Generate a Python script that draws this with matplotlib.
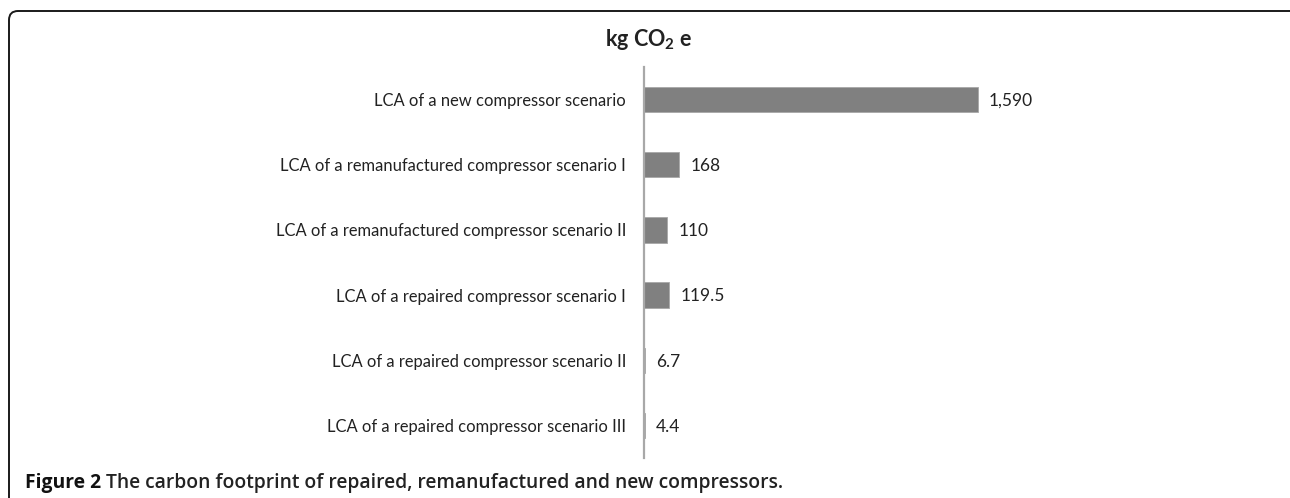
import matplotlib
matplotlib.use("Agg")
import matplotlib.pyplot as plt
from matplotlib.patches import FancyBboxPatch

categories = [
    "LCA of a new compressor scenario",
    "LCA of a remanufactured compressor scenario I",
    "LCA of a remanufactured compressor scenario II",
    "LCA of a repaired compressor scenario I",
    "LCA of a repaired compressor scenario II",
    "LCA of a repaired compressor scenario III",
]
values = [1590, 168, 110, 119.5, 6.7, 4.4]
value_labels = ["1,590", "168", "110", "119.5", "6.7", "4.4"]

plt.rcParams['font.family'] = ['Lato', 'DejaVu Sans']
plt.rcParams['mathtext.fontset'] = 'custom'
plt.rcParams['mathtext.bf'] = 'Lato:bold'
plt.rcParams['mathtext.rm'] = 'Lato'

W, H = 1290, 498
DPI = 100
fig = plt.figure(figsize=(W/DPI, H/DPI), dpi=DPI)

# frame (in inches, origin bottom-left)
x0, y_top = 9/DPI, (H - 11)/DPI
frame = FancyBboxPatch((x0, -0.3), (1300 - 9)/DPI, y_top + 0.3,
                       boxstyle="round,pad=0,rounding_size=0.09",
                       transform=fig.dpi_scale_trans, fill=False,
                       edgecolor='#1a1a1a', linewidth=1.4)
fig.patches.append(frame)

ax_left = 644/W
ax_right = 1200/W
ax_top = 1 - 67/H
ax_bot = 1 - 458/H
ax = fig.add_axes([ax_left, ax_bot, ax_right - ax_left, ax_top - ax_bot])

px_per_unit = (978 - 644) / 1590
xmax = (1200 - 644) / px_per_unit

y = list(range(len(categories)))
ax.barh(y, values, height=0.39, color='#808080', edgecolor='#a8a8a8', linewidth=0.6)
ax.set_ylim(len(categories) - 0.5, -0.5)
ax.set_xlim(0, xmax)

for yi, v, lab in zip(y, values, value_labels):
    ax.annotate(lab, (v, yi), xytext=(8, -1), textcoords='offset points',
                va='center', ha='left', fontsize=12.5, color='#222222')

ax.set_yticks(y)
ax.set_yticklabels(categories, fontsize=11.9, color='#222222')
ax.tick_params(axis='y', length=0, pad=13)
ax.set_xticks([])
for s in ['top', 'right', 'bottom']:
    ax.spines[s].set_visible(False)
ax.spines['left'].set_color('#a8a8a8')
ax.spines['left'].set_linewidth(1.6)

fig.text(649/W, 1 - 40/H, r'kg CO$_\mathbf{2}$ e', ha='center', va='center',
         fontsize=15.5, fontweight='bold', color='#222222')

# caption
cap_font = ['Open Sans', 'DejaVu Sans']
cap_y = 1 - 483/H
t1 = fig.text(25/W, cap_y, 'Figure 2', ha='left', va='center', family=cap_font,
              fontsize=12, fontweight='bold', color='#111111')
t2 = fig.text(0, cap_y,
              'The carbon footprint of repaired, remanufactured and new compressors.',
              ha='left', va='center', family=cap_font,
              fontsize=12, fontweight='semibold', color='#222222')
renderer = fig.canvas.get_renderer()
for _ in range(3):
    b1 = t1.get_window_extent(renderer)
    t2.set_x((b1.x1 + 5)/W)
    b2 = t2.get_window_extent(renderer)
    total = b2.x1 - b1.x0
    scale = (783 - 25) / total
    t1.set_fontsize(t1.get_fontsize() * scale)
    t2.set_fontsize(t2.get_fontsize() * scale)
b1 = t1.get_window_extent(renderer)
t2.set_x((b1.x1 + 5)/W)

fig.savefig('out.png', dpi=DPI)
